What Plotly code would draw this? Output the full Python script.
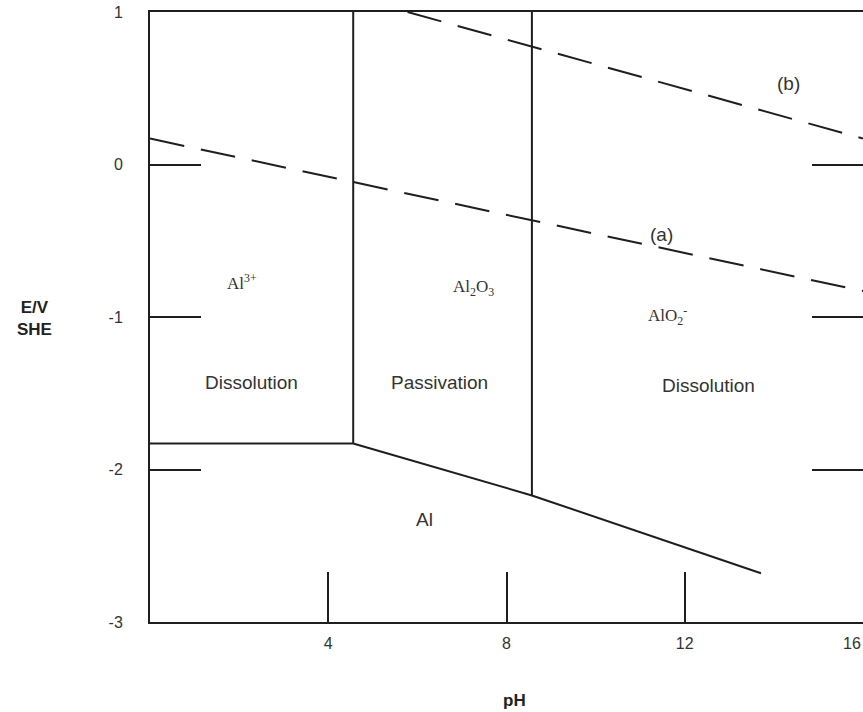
import plotly.graph_objects as go

# ---- data ----
ph_tickvals = [4, 8, 12, 16]
ph_ticktext = ["4", "8", "12", "16\u00a0\u00a0\u00a0\u00a0\u00a0"]
e_tickvals = [-3, -2, -1, 0, 1]
e_ticktext = ["-3", "-2", "-1", "0", "1"]

# water stability lines (dashed)
line_a_ph = [0.0, 16.0]
line_a_e = [0.17, -0.83]
line_b_ph = [5.78, 16.0]
line_b_e = [1.0, 0.17]

# phase boundaries (solid)
al3_oxide_ph = [4.56, 4.56]
al3_oxide_e = [1.0, -1.83]
oxide_alo2_ph = [8.57, 8.57]
oxide_alo2_e = [1.0, -2.17]
al3_al_ph = [0.0, 4.56]
al3_al_e = [-1.83, -1.83]
al_oxide_ph = [4.56, 8.57, 13.71]
al_oxide_e = [-1.83, -2.17, -2.68]

# region labels
species_text = ["Al<sup>3+</sup>", "Al<sub>2</sub>O<sub>3</sub>", "AlO<sub>2</sub><sup>-</sup>"]
species_ph = [2.07, 7.25, 11.62]
species_e = [-0.77, -0.81, -0.99]

region_text = ["Dissolution", "Passivation", "Dissolution", "Al", "(a)", "(b)"]
region_ph = [2.27, 6.50, 12.54, 6.16, 11.47, 14.33]
region_e = [-1.43, -1.43, -1.45, -2.33, -0.46, 0.53]

LINE = "#1e1e1e"
TEXT = "#333333"
SANS = "Liberation Sans, Arial, sans-serif"
SERIF = "Liberation Serif, Times New Roman, serif"

W, H = 863, 712
L, R, T, B = 150, 0, 12, 90
pw, ph = W - L - R, H - T - B

fig = go.Figure()

for xs, ys in [(line_a_ph, line_a_e), (line_b_ph, line_b_e)]:
    fig.add_trace(go.Scatter(x=xs, y=ys, mode="lines",
                             line=dict(color=LINE, width=2, dash="35px,17px"),
                             hoverinfo="skip", showlegend=False))

for xs, ys in [(al3_oxide_ph, al3_oxide_e), (oxide_alo2_ph, oxide_alo2_e),
               (al3_al_ph, al3_al_e), (al_oxide_ph, al_oxide_e)]:
    fig.add_trace(go.Scatter(x=xs, y=ys, mode="lines",
                             line=dict(color=LINE, width=2),
                             hoverinfo="skip", showlegend=False))

for t, x, y in zip(species_text, species_ph, species_e):
    fig.add_annotation(x=x, y=y, xref="x", yref="y", text=t, showarrow=False,
                       xanchor="center", yanchor="middle",
                       font=dict(family=SERIF, size=17, color=TEXT))

for t, x, y in zip(region_text, region_ph, region_e):
    fig.add_annotation(x=x, y=y, xref="x", yref="y", text=t, showarrow=False,
                       xanchor="center", yanchor="middle",
                       font=dict(family=SANS, size=19, color=TEXT))


def px_to_paper(px, py):
    return (px - L) / pw, (H - py - B) / ph


# axis titles (positions in pixels, converted to paper coordinates)
tx, ty = px_to_paper(34, 318)
fig.add_annotation(x=tx, y=ty, xref="paper", yref="paper", text="<b>E/V<br>SHE</b>",
                   showarrow=False, xanchor="center", yanchor="middle",
                   font=dict(family=SANS, size=17, color="#222222"))
tx, ty = px_to_paper(514, 700)
fig.add_annotation(x=tx, y=ty, xref="paper", yref="paper", text="<b>pH</b>",
                   showarrow=False, xanchor="center", yanchor="middle",
                   font=dict(family=SANS, size=17, color="#222222"))

fig.update_layout(
    width=W, height=H,
    margin=dict(l=L, r=R, t=T, b=B, autoexpand=False),
    plot_bgcolor="white", paper_bgcolor="white",
    showlegend=False,
    xaxis=dict(range=[0, 16], tickvals=ph_tickvals, ticktext=ph_ticktext,
               ticks="inside", ticklen=50, tickwidth=2, tickcolor=LINE,
               showline=True, linecolor=LINE, linewidth=2, mirror=True,
               showgrid=False, zeroline=False, ticklabelstandoff=6,
               ticklabeloverflow="allow", automargin=False,
               tickfont=dict(family=SANS, size=16, color=TEXT)),
    yaxis=dict(range=[-3, 1], tickvals=e_tickvals, ticktext=e_ticktext,
               ticks="inside", ticklen=51, tickwidth=2, tickcolor=LINE,
               showline=True, linecolor=LINE, linewidth=2, mirror="ticks",
               showgrid=False, zeroline=False, ticklabelstandoff=22,
               automargin=False,
               tickfont=dict(family=SANS, size=16, color=TEXT)),
)

fig.write_html("out.html", config={"displayModeBar": False},
               post_script="document.body.style.margin='0';document.body.style.overflow='hidden';")
